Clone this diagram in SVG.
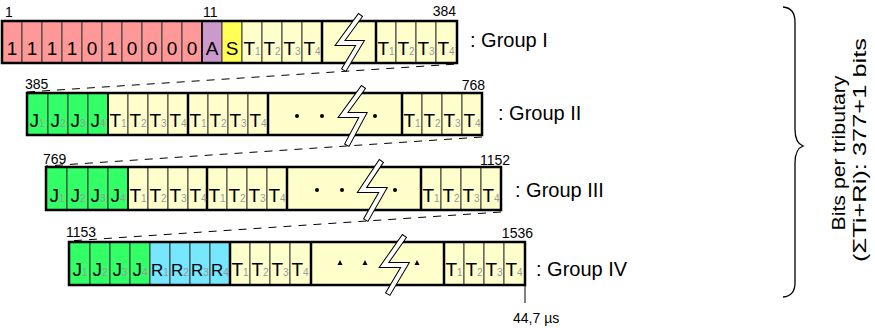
<svg xmlns="http://www.w3.org/2000/svg" width="875" height="328" viewBox="0 0 875 328">
<style>
text{font-family:"Liberation Sans",Arial,sans-serif;fill:#000}
.c{font-size:19px;text-anchor:middle}
.s{font-size:10px;fill:#999}
.n{font-size:14px}
.g{font-size:20px}
.k{stroke:#3a3a3a;stroke-width:1}
.pk{fill:#FF9999}.pu{fill:#CC99CC}.ye{fill:#FFFF55}.ly{fill:#FFFFCC}.gr{fill:#33FF66}.cy{fill:#77E6FF}
.out{fill:none;stroke:#000;stroke-width:2.5}
.sep{stroke:#000;stroke-width:2.5}
.sep2{stroke:#000;stroke-width:1.6}
.zb{fill:none;stroke:#000;stroke-width:6;stroke-linecap:square;stroke-linejoin:miter}
.zw{fill:none;stroke:#fff;stroke-width:4;stroke-linecap:square;stroke-linejoin:miter}
.dash{stroke:#000;stroke-width:1;stroke-dasharray:8 7;fill:none}
</style>

<g id="connectors">
<line class="dash" x1="27" y1="92" x2="457" y2="64"/>
<line class="dash" x1="482" y1="137" x2="46" y2="166"/>
<line class="dash" x1="501" y1="212" x2="69" y2="241"/>
<line x1="525" y1="286" x2="525" y2="303" stroke="#000" stroke-width="1"/>
</g>

<g id="group1">
<rect class="k pk" x="2" y="21" width="20" height="42"/>
<rect class="k pk" x="22" y="21" width="20" height="42"/>
<rect class="k pk" x="42" y="21" width="20" height="42"/>
<rect class="k pk" x="62" y="21" width="20" height="42"/>
<rect class="k pk" x="82" y="21" width="20" height="42"/>
<rect class="k pk" x="102" y="21" width="20" height="42"/>
<rect class="k pk" x="122" y="21" width="20" height="42"/>
<rect class="k pk" x="142" y="21" width="20" height="42"/>
<rect class="k pk" x="162" y="21" width="20" height="42"/>
<rect class="k pk" x="182" y="21" width="20" height="42"/>
<rect class="k pu" x="202" y="21" width="20" height="42"/>
<rect class="k ye" x="222" y="21" width="20" height="42"/>
<rect class="k ly" x="242" y="21" width="20" height="42"/>
<rect class="k ly" x="262" y="21" width="20" height="42"/>
<rect class="k ly" x="282" y="21" width="20" height="42"/>
<rect class="k ly" x="302" y="21" width="20" height="42"/>
<rect class="k ly" x="322" y="21" width="54" height="42"/>
<rect class="k ly" x="376" y="21" width="20" height="42"/>
<rect class="k ly" x="396" y="21" width="20" height="42"/>
<rect class="k ly" x="416" y="21" width="20" height="42"/>
<rect class="k ly" x="436" y="21" width="21" height="42"/>
<rect class="out" x="2" y="21" width="455" height="42"/>
<line class="sep2" x1="202" y1="21" x2="202" y2="63"/>
<line class="sep" x1="322" y1="21" x2="322" y2="63"/>
<line class="sep" x1="376" y1="21" x2="376" y2="63"/>
<text class="c" x="12" y="55">1</text>
<text class="c" x="32" y="55">1</text>
<text class="c" x="52" y="55">1</text>
<text class="c" x="72" y="55">1</text>
<text class="c" x="92" y="55">0</text>
<text class="c" x="112" y="55">1</text>
<text class="c" x="132" y="55">0</text>
<text class="c" x="152" y="55">0</text>
<text class="c" x="172" y="55">0</text>
<text class="c" x="192" y="55">0</text>
<text class="c" x="212" y="55">A</text>
<text class="c" x="232" y="55">S</text>
<text class="c" x="252" y="55">T<tspan class="s">1</tspan></text>
<text class="c" x="272" y="55">T<tspan class="s">2</tspan></text>
<text class="c" x="292" y="55">T<tspan class="s">3</tspan></text>
<text class="c" x="312" y="55">T<tspan class="s">4</tspan></text>
<text class="c" x="386" y="55">T<tspan class="s">1</tspan></text>
<text class="c" x="406" y="55">T<tspan class="s">2</tspan></text>
<text class="c" x="426" y="55">T<tspan class="s">3</tspan></text>
<text class="c" x="446" y="55">T<tspan class="s">4</tspan></text>
<polyline class="zb" points="359,17 340,43 360,43 345,68"/>
<polyline class="zw" points="359,17 340,43 360,43 345,68"/>
<text class="n" x="5" y="17">1</text>
<text class="n" x="203" y="17">11</text>
<text class="n" x="456" y="16" text-anchor="end">384</text>
<text class="g" x="470" y="47">: Group I</text>
</g>

<g id="group2">
<rect class="k gr" x="27" y="93" width="21" height="42"/>
<rect class="k gr" x="48" y="93" width="20" height="42"/>
<rect class="k gr" x="68" y="93" width="20" height="42"/>
<rect class="k gr" x="88" y="93" width="20" height="42"/>
<rect class="k ly" x="108" y="93" width="20" height="42"/>
<rect class="k ly" x="128" y="93" width="20" height="42"/>
<rect class="k ly" x="148" y="93" width="20" height="42"/>
<rect class="k ly" x="168" y="93" width="20" height="42"/>
<rect class="k ly" x="188" y="93" width="20" height="42"/>
<rect class="k ly" x="208" y="93" width="20" height="42"/>
<rect class="k ly" x="228" y="93" width="20" height="42"/>
<rect class="k ly" x="248" y="93" width="20" height="42"/>
<rect class="k ly" x="268" y="93" width="134" height="42"/>
<rect class="k ly" x="402" y="93" width="20" height="42"/>
<rect class="k ly" x="422" y="93" width="20" height="42"/>
<rect class="k ly" x="442" y="93" width="20" height="42"/>
<rect class="k ly" x="462" y="93" width="20" height="42"/>
<rect class="out" x="27" y="93" width="455" height="42"/>
<line class="sep2" x1="108" y1="93" x2="108" y2="135"/>
<line class="sep" x1="188" y1="93" x2="188" y2="135"/>
<line class="sep" x1="268" y1="93" x2="268" y2="135"/>
<line class="sep" x1="402" y1="93" x2="402" y2="135"/>
<text class="c" x="37" y="127">J<tspan class="s">1</tspan></text>
<text class="c" x="58" y="127">J<tspan class="s">2</tspan></text>
<text class="c" x="78" y="127">J<tspan class="s">3</tspan></text>
<text class="c" x="98" y="127">J<tspan class="s">4</tspan></text>
<text class="c" x="118" y="127">T<tspan class="s">1</tspan></text>
<text class="c" x="138" y="127">T<tspan class="s">2</tspan></text>
<text class="c" x="158" y="127">T<tspan class="s">3</tspan></text>
<text class="c" x="178" y="127">T<tspan class="s">4</tspan></text>
<text class="c" x="198" y="127">T<tspan class="s">1</tspan></text>
<text class="c" x="218" y="127">T<tspan class="s">2</tspan></text>
<text class="c" x="238" y="127">T<tspan class="s">3</tspan></text>
<text class="c" x="258" y="127">T<tspan class="s">4</tspan></text>
<text class="c" x="412" y="127">T<tspan class="s">1</tspan></text>
<text class="c" x="432" y="127">T<tspan class="s">2</tspan></text>
<text class="c" x="452" y="127">T<tspan class="s">3</tspan></text>
<text class="c" x="472" y="127">T<tspan class="s">4</tspan></text>
<circle cx="297" cy="116" r="2"/>
<circle cx="322" cy="116" r="2"/>
<circle cx="375" cy="116" r="2"/>
<polyline class="zb" points="362,89 343,115 363,115 348,143"/>
<polyline class="zw" points="362,89 343,115 363,115 348,143"/>
<text class="n" x="25" y="89">385</text>
<text class="n" x="485" y="90" text-anchor="end">768</text>
<text class="g" x="498" y="120">: Group II</text>
</g>

<g id="group3">
<rect class="k gr" x="46" y="167" width="21" height="43"/>
<rect class="k gr" x="67" y="167" width="21" height="43"/>
<rect class="k gr" x="88" y="167" width="20" height="43"/>
<rect class="k gr" x="108" y="167" width="20" height="43"/>
<rect class="k ly" x="128" y="167" width="20" height="43"/>
<rect class="k ly" x="148" y="167" width="20" height="43"/>
<rect class="k ly" x="168" y="167" width="20" height="43"/>
<rect class="k ly" x="188" y="167" width="19" height="43"/>
<rect class="k ly" x="207" y="167" width="20" height="43"/>
<rect class="k ly" x="227" y="167" width="20" height="43"/>
<rect class="k ly" x="247" y="167" width="20" height="43"/>
<rect class="k ly" x="267" y="167" width="20" height="43"/>
<rect class="k ly" x="287" y="167" width="134" height="43"/>
<rect class="k ly" x="421" y="167" width="20" height="43"/>
<rect class="k ly" x="441" y="167" width="20" height="43"/>
<rect class="k ly" x="461" y="167" width="20" height="43"/>
<rect class="k ly" x="481" y="167" width="20" height="43"/>
<rect class="out" x="46" y="167" width="455" height="43"/>
<line class="sep2" x1="128" y1="167" x2="128" y2="210"/>
<line class="sep" x1="207" y1="167" x2="207" y2="210"/>
<line class="sep" x1="287" y1="167" x2="287" y2="210"/>
<line class="sep" x1="421" y1="167" x2="421" y2="210"/>
<text class="c" x="57" y="202">J<tspan class="s">1</tspan></text>
<text class="c" x="78" y="202">J<tspan class="s">2</tspan></text>
<text class="c" x="98" y="202">J<tspan class="s">3</tspan></text>
<text class="c" x="118" y="202">J<tspan class="s">4</tspan></text>
<text class="c" x="138" y="202">T<tspan class="s">1</tspan></text>
<text class="c" x="158" y="202">T<tspan class="s">2</tspan></text>
<text class="c" x="178" y="202">T<tspan class="s">3</tspan></text>
<text class="c" x="198" y="202">T<tspan class="s">4</tspan></text>
<text class="c" x="217" y="202">T<tspan class="s">1</tspan></text>
<text class="c" x="237" y="202">T<tspan class="s">2</tspan></text>
<text class="c" x="257" y="202">T<tspan class="s">3</tspan></text>
<text class="c" x="277" y="202">T<tspan class="s">4</tspan></text>
<text class="c" x="431" y="202">T<tspan class="s">1</tspan></text>
<text class="c" x="451" y="202">T<tspan class="s">2</tspan></text>
<text class="c" x="471" y="202">T<tspan class="s">3</tspan></text>
<text class="c" x="491" y="202">T<tspan class="s">4</tspan></text>
<circle cx="317" cy="190" r="2"/>
<circle cx="342" cy="190" r="2"/>
<circle cx="395" cy="190" r="2"/>
<polyline class="zb" points="380,163 362,190 383,190 367,218"/>
<polyline class="zw" points="380,163 362,190 383,190 367,218"/>
<text class="n" x="43" y="164">769</text>
<text class="n" x="510" y="165" text-anchor="end">1152</text>
<text class="g" x="515" y="197">: Group III</text>
</g>

<g id="group4">
<rect class="k gr" x="69" y="242" width="21" height="43"/>
<rect class="k gr" x="90" y="242" width="20" height="43"/>
<rect class="k gr" x="110" y="242" width="20" height="43"/>
<rect class="k gr" x="130" y="242" width="20" height="43"/>
<rect class="k cy" x="150" y="242" width="20" height="43"/>
<rect class="k cy" x="170" y="242" width="20" height="43"/>
<rect class="k cy" x="190" y="242" width="20" height="43"/>
<rect class="k cy" x="210" y="242" width="20" height="43"/>
<rect class="k ly" x="230" y="242" width="20" height="43"/>
<rect class="k ly" x="250" y="242" width="20" height="43"/>
<rect class="k ly" x="270" y="242" width="20" height="43"/>
<rect class="k ly" x="290" y="242" width="21" height="43"/>
<rect class="k ly" x="311" y="242" width="133" height="43"/>
<rect class="k ly" x="444" y="242" width="20" height="43"/>
<rect class="k ly" x="464" y="242" width="20" height="43"/>
<rect class="k ly" x="484" y="242" width="20" height="43"/>
<rect class="k ly" x="504" y="242" width="21" height="43"/>
<rect class="out" x="69" y="242" width="456" height="43"/>
<line class="sep" x1="230" y1="242" x2="230" y2="285"/>
<line class="sep" x1="311" y1="242" x2="311" y2="285"/>
<line class="sep" x1="444" y1="242" x2="444" y2="285"/>
<text class="c" x="80" y="276">J<tspan class="s">1</tspan></text>
<text class="c" x="100" y="276">J<tspan class="s">2</tspan></text>
<text class="c" x="120" y="276">J<tspan class="s">3</tspan></text>
<text class="c" x="140" y="276">J<tspan class="s">4</tspan></text>
<text class="c" x="160" y="276" style="font-size:17px">R<tspan class="s">1</tspan></text>
<text class="c" x="180" y="276" style="font-size:17px">R<tspan class="s">2</tspan></text>
<text class="c" x="200" y="276" style="font-size:17px">R<tspan class="s">3</tspan></text>
<text class="c" x="220" y="276" style="font-size:17px">R<tspan class="s">4</tspan></text>
<text class="c" x="240" y="276">T<tspan class="s">1</tspan></text>
<text class="c" x="260" y="276">T<tspan class="s">2</tspan></text>
<text class="c" x="280" y="276">T<tspan class="s">3</tspan></text>
<text class="c" x="300" y="276">T<tspan class="s">4</tspan></text>
<text class="c" x="454" y="276">T<tspan class="s">1</tspan></text>
<text class="c" x="474" y="276">T<tspan class="s">2</tspan></text>
<text class="c" x="494" y="276">T<tspan class="s">3</tspan></text>
<text class="c" x="514" y="276">T<tspan class="s">4</tspan></text>
<polygon points="340,260 337.5,265 342.5,265"/>
<polygon points="365,260 362.5,265 367.5,265"/>
<polygon points="417,260 414.5,265 419.5,265"/>
<polyline class="zb" points="403,238 384,265 405,265 389,292"/>
<polyline class="zw" points="403,238 384,265 405,265 389,292"/>
<text class="n" x="66" y="237">1153</text>
<text class="n" x="533" y="238" text-anchor="end">1536</text>
<text class="g" x="536" y="276">: Group IV</text>
<text class="n" x="513" y="323">44,7 µs</text>
</g>

<g id="brace">
<path d="M783,7 Q795,8 795,22 L795,129 Q795,143 803,146 Q795,149 795,163 L795,283 Q795,296 783,297" fill="none" stroke="#000" stroke-width="1.3"/>
<text x="845" y="153" text-anchor="middle" transform="rotate(-90 845 153)" style="font-size:19px" textLength="155" lengthAdjust="spacingAndGlyphs">Bits per tributary</text>
<text x="866" y="150" text-anchor="middle" transform="rotate(-90 866 150)" style="font-size:19px" textLength="224" lengthAdjust="spacingAndGlyphs">(ΣTi+Ri): 377+1 bits</text>
</g>
</svg>
